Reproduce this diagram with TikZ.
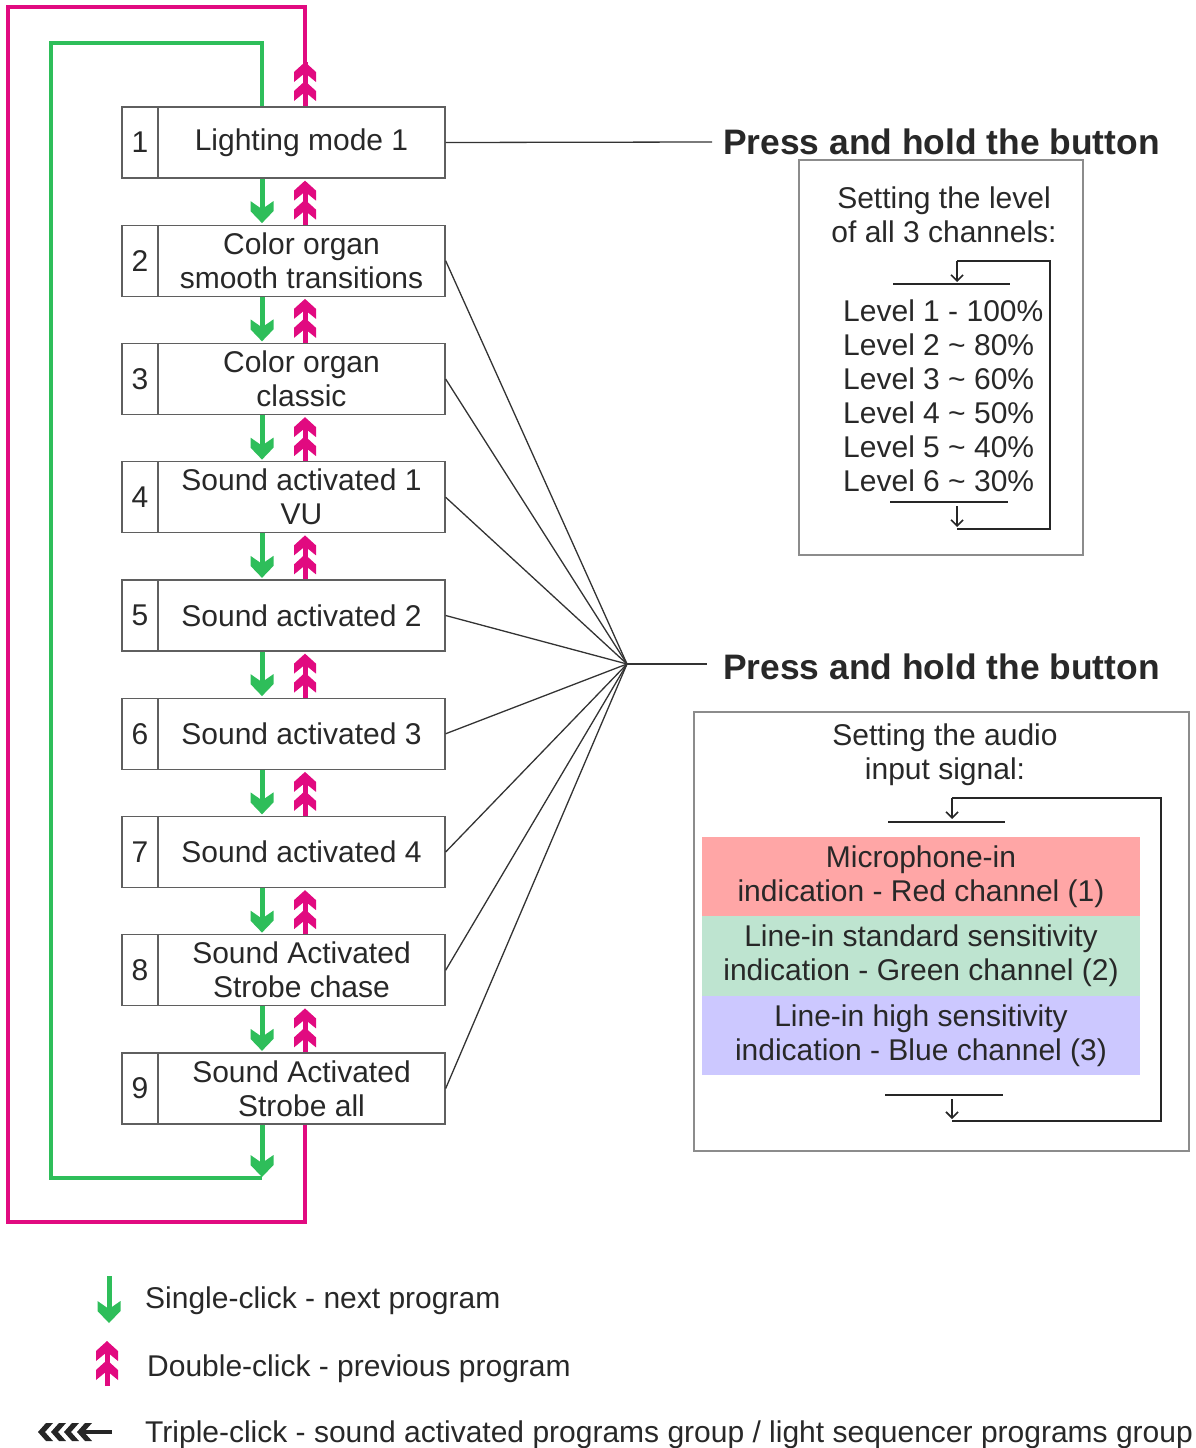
\documentclass[tikz,border=0pt]{standalone}
\usepackage{fontspec}
\setmainfont{Liberation Sans}
\usetikzlibrary{arrows.meta,calc}
\definecolor{gr}{RGB}{46,190,90}
\definecolor{mg}{RGB}{225,10,128}
\definecolor{txt}{RGB}{40,40,40}
\definecolor{bd}{RGB}{95,95,95}
\definecolor{redband}{RGB}{255,166,166}
\definecolor{greenband}{RGB}{190,228,208}
\definecolor{blueband}{RGB}{204,200,255}
\begin{document}
\begin{tikzpicture}[x=1pt,y=-1pt,
  every node/.style={text=txt, font=\fontsize{30}{34}\selectfont},
  numbox/.style={draw=bd, line width=1.3pt, minimum width=36pt, minimum height=71pt, inner sep=0pt},
  mainbox/.style={draw=bd, line width=1.3pt, minimum width=287pt, minimum height=71pt, inner sep=0pt, align=center},
  gshaft/.style={draw=gr, line width=5pt},
  mshaft/.style={draw=mg, line width=5pt},
  gline/.style={draw=gr, line width=4pt},
  mline/.style={draw=mg, line width=4pt},
  conn/.style={draw=black!80, line width=1.3pt},
  smallarrow/.style={draw=black!85, line width=1.6pt, -{Straight Barb[length=6pt,width=12pt]}},
  loopline/.style={draw=black!85, line width=1.8pt},
  panel/.style={draw=black!45, line width=1.2pt, inner sep=0pt},
  band/.style={inner sep=0pt, minimum width=438pt, align=center},
  title/.style={font=\fontsize{35.4}{40}\selectfont\bfseries, anchor=west, inner sep=0pt},
  legend/.style={anchor=west, inner sep=0pt},
  ghead/.pic={\fill[gr] (0,0) -- (-11.5,-12) -- (-11.5,-22) -- (0,-14) -- (11.5,-22) -- (11.5,-12) -- cycle;},
  mchev/.pic={\fill[mg] (0,0) -- (11,10) -- (11,20) -- (0,11) -- (-11,20) -- (-11,10) -- cycle;
              \fill[mg] (0,19) -- (11,29) -- (11,39) -- (0,30) -- (-11,39) -- (-11,29) -- cycle;},
  lchev/.pic={\fill[black!85] (0,0) -- (8,-9) -- (15,-9) -- (7,0) -- (15,9) -- (8,9) -- cycle;}
]
\useasboundingbox (0,0) rectangle (1195,1448);

% column reference coordinates
\coordinate (gx) at (262,0);
\coordinate (mx) at (305,0);

% program boxes
\foreach \i/\txt in {1/{Lighting mode 1},2/{Color organ\\smooth transitions},3/{Color organ\\classic},4/{Sound activated 1\\VU},5/{Sound activated 2},6/{Sound activated 3},7/{Sound activated 4},8/{Sound Activated\\Strobe chase},9/{Sound Activated\\Strobe all}}{
  \pgfmathsetmacro{\yy}{142.5+(\i-1)*118.25}
  \node[numbox] (n\i) at (140,\yy) {\i};
  \node[mainbox] (b\i) at (301.5,\yy) {\txt};
}

% arrows between boxes
\foreach \i [evaluate=\i as \j using int(\i+1)] in {1,...,8}{
  \draw[gshaft] (b\i.south -| gx) -- ([yshift=13pt]b\j.north -| gx);
  \pic at ([yshift=1.5pt]b\j.north -| gx) {ghead};
  \draw[mshaft] (b\j.north -| mx) -- ([yshift=-10pt]b\i.south -| mx);
  \pic at ([yshift=-2pt]b\i.south -| mx) {mchev};
}

% green loop
\coordinate (g1) at (262,43);
\coordinate (g2) at (51,43);
\coordinate (g3) at (51,1178);
\coordinate (g4) at (262,1178);
\coordinate (g5) at (262,1177);
\draw[gline] (b1.north -| gx) -- (g1) -- (g2) -- (g3) -- (g4);
\draw[gshaft] (b9.south -| gx) -- (262,1165);
\pic at (g5) {ghead};

% magenta loop
\coordinate (m1) at (305,1222);
\coordinate (m2) at (8,1222);
\coordinate (m3) at (8,7);
\coordinate (m4) at (305,7);
\coordinate (m5) at (305,62);
\draw[mline] (b9.south -| mx) -- (m1) -- (m2) -- (m3) -- (m4) -- (m5);
\draw[mshaft] (b1.north -| mx) -- (m5);
\pic at (m5) {mchev};

% titles
\node[title] (t1) at (723,142) {Press and hold the button};
\node[title] (t2) at (723,667) {Press and hold the button};
\coordinate (t1end) at (712,142);
\draw[conn] (b1.east) -- (t1end);

% fan
\coordinate (F) at (627,664);
\coordinate (Fend) at (707,664);
\foreach \i in {2,...,9}{
  \draw[conn] (b\i.east) -- (F);
}
\draw[conn] (F) -- (Fend);

% level panel
\node[panel, minimum width=284pt, minimum height=395pt] (lvl) at (941,357.5) {};
\node[align=center] (lvlt) at (944,215) {Setting the level\\of all 3 channels:};
\node[anchor=west, align=left, inner sep=0pt] (lvls) at (843,396)
  {Level 1 - 100\%\\Level 2 \char"7E{} 80\%\\Level 3 \char"7E{} 60\%\\Level 4 \char"7E{} 50\%\\Level 5 \char"7E{} 40\%\\Level 6 \char"7E{} 30\%};
\coordinate (la) at (957,261);
\coordinate (lb) at (957,282);
\coordinate (lc) at (1050,261);
\coordinate (ld) at (1050,529);
\coordinate (le) at (957,529);
\coordinate (lf) at (957,506);
\coordinate (lg) at (957,527);
\coordinate (lh1) at (893,284);
\coordinate (lh2) at (1010,284);
\coordinate (lh3) at (890,502);
\coordinate (lh4) at (1008,502);
\draw[loopline] (lh1) -- (lh2);
\draw[loopline] (lh3) -- (lh4);
\draw[loopline] (le) -- (ld) -- (lc) -- (la);
\draw[smallarrow] (la) -- (lb);
\draw[smallarrow] (lf) -- (lg);

% audio panel
\node[panel, minimum width=495pt, minimum height=439pt] (aud) at (941.5,931.5) {};
\node[align=center] (audt) at (945,755) {Setting the audio\\input signal:};
\node[band, fill=redband, minimum height=79pt] (r) at (921,876.5) {Microphone-in\\indication - Red channel (1)};
\node[band, fill=greenband, minimum height=80pt] (g) at (921,956) {Line-in standard sensitivity\\indication - Green channel (2)};
\node[band, fill=blueband, minimum height=79pt] (bl) at (921,1035.5) {Line-in high sensitivity\\indication - Blue channel (3)};
\coordinate (aa) at (952,798);
\coordinate (ab) at (952,819);
\coordinate (ac) at (1161,798);
\coordinate (ad) at (1161,1121);
\coordinate (ae) at (952,1121);
\coordinate (af) at (952,1099);
\coordinate (ag) at (952,1119);
\coordinate (ah1) at (888,822);
\coordinate (ah2) at (1005,822);
\coordinate (ah3) at (885,1095);
\coordinate (ah4) at (1003,1095);
\draw[loopline] (ah1) -- (ah2);
\draw[loopline] (ah3) -- (ah4);
\draw[loopline] (ae) -- (ad) -- (ac) -- (aa);
\draw[smallarrow] (aa) -- (ab);
\draw[smallarrow] (af) -- (ag);

% legend
\coordinate (lg1a) at (109,1276);
\coordinate (lg1b) at (109,1311);
\coordinate (lg1t) at (109,1323);
\draw[gshaft] (lg1a) -- (lg1b);
\pic at (lg1t) {ghead};
\node[legend] (l1) at (145,1301) {Single-click - next program};
\coordinate (lg2a) at (107,1386);
\coordinate (lg2b) at (107,1349);
\coordinate (lg2t) at (107,1341);
\draw[mshaft] (lg2a) -- (lg2b);
\pic at (lg2t) {mchev};
\node[legend] (l2) at (147,1369) {Double-click - previous program};
\coordinate (lg3a) at (112,1432);
\coordinate (lg3b) at (84,1432);
\draw[draw=black!85, line width=4.5pt] (lg3a) -- (lg3b);
\foreach \xx in {38,51,64,77}{ \pic at (\xx,1432) {lchev}; }
\node[legend] (l3) at (145,1435) {Triple-click - sound activated programs group / light sequencer programs group};
\end{tikzpicture}
\end{document}
